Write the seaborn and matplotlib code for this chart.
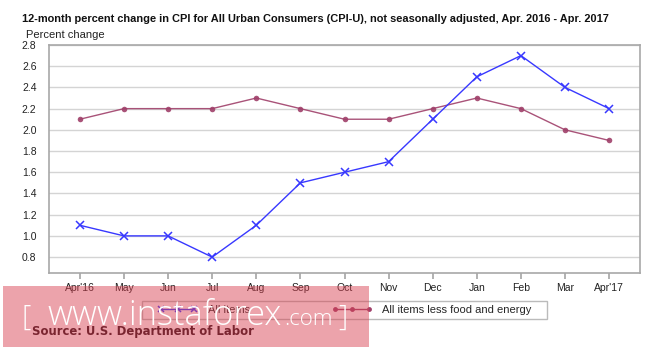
import matplotlib
matplotlib.use("Agg")
import matplotlib.pyplot as plt
import seaborn as sns
import pandas as pd
from matplotlib.patches import Rectangle
from matplotlib.lines import Line2D

months = ["Apr'16", "May", "Jun", "Jul", "Aug", "Sep", "Oct", "Nov", "Dec", "Jan", "Feb", "Mar", "Apr'17"]
all_items = [1.1, 1.0, 1.0, 0.8, 1.1, 1.5, 1.6, 1.7, 2.1, 2.5, 2.7, 2.4, 2.2]
core_items = [2.1, 2.2, 2.2, 2.2, 2.3, 2.2, 2.1, 2.1, 2.2, 2.3, 2.2, 2.0, 1.9]
yticks = [0.8, 1.0, 1.2, 1.4, 1.6, 1.8, 2.0, 2.2, 2.4, 2.6, 2.8]

sns.set_theme(style="white")
plt.rcParams['font.family'] = ['Liberation Sans', 'DejaVu Sans']

df = pd.DataFrame({"x": list(range(len(months))), "all": all_items, "core": core_items})

W, H = 665, 350
fig = plt.figure(figsize=(6.65, 3.5), dpi=100)
ax = fig.add_axes([49 / W, 1 - 273 / H, (640 - 49) / W, (273 - 45) / H])

blue = "#3838ff"
purple = "#a0406a"
sns.lineplot(data=df, x="x", y="core", ax=ax, color=purple, marker="o", markersize=4,
             markeredgewidth=0, linewidth=1.0, alpha=0.9)
sns.lineplot(data=df, x="x", y="all", ax=ax, color=blue, marker="x", markersize=5.5,
             markeredgewidth=1.1, linewidth=1.0, markeredgecolor=blue)

ax.set_xlim(-0.7, len(months) - 1 + 0.7)
ax.set_ylim(0.65, 2.8)
ax.set_yticks(yticks)
ax.set_yticklabels([f"{v:.1f}" for v in yticks], fontsize=7.5, color="#222222")
ax.set_xticks(range(len(months)))
ax.set_xticklabels(months, fontsize=7.5, color="#222222")
ax.set_xlabel("")
ax.set_ylabel("")
ax.grid(axis="y", color="#d4d4d4", linewidth=1.0)
ax.set_axisbelow(True)
for s in ax.spines.values():
    s.set_color("#a8a8a8")
    s.set_linewidth(1.2)
ax.tick_params(axis="x", bottom=True, length=4, color="#a8a8a8", pad=3)
ax.tick_params(axis="y", left=False, pad=3)

fig.text(22 / W, 1 - 19 / H, "12-month percent change in CPI for All Urban Consumers (CPI-U), not seasonally adjusted, Apr. 2016 - Apr. 2017",
         fontsize=7.95, fontweight="bold", family=['Liberation Sans Narrow', 'Liberation Sans', 'DejaVu Sans'],
         va="center", ha="left", color="#111111")
fig.text(26 / W, 1 - 35 / H, "Percent change", fontsize=8, va="center", ha="left", color="#222222")

handles = [
    Line2D([0], [0], color=blue, marker="x", markersize=5, markeredgewidth=1.1, linewidth=1.0),
    Line2D([0], [0], color=purple, marker="o", markersize=3.5, markeredgewidth=0, linewidth=1.0),
]
# legend frame drawn as a plain box
fig.patches.append(Rectangle((142 / W, 1 - 319 / H), (547 - 142) / W, 18 / H, transform=fig.transFigure,
                             facecolor="white", edgecolor="#bbbbbb", linewidth=1.0, zorder=2))
leg = fig.legend(handles, ["All items", "All items less food and energy"], ncol=2, numpoints=3,
                 loc="center", bbox_to_anchor=(344.5 / W, 1 - 310 / H), fontsize=8,
                 frameon=False, borderpad=0.25, borderaxespad=0, handlelength=3.6,
                 columnspacing=7.4, handletextpad=0.9)
leg.set_zorder(3)

# watermark overlay
fig.patches.append(Rectangle((3 / W, 1 - 347 / H), 366 / W, 61 / H, transform=fig.transFigure,
                             facecolor="#d94050", alpha=0.48, edgecolor="none", zorder=5))
wm_font = ['Open Sans', 'DejaVu Sans']
fig.text(22 / W, 1 - 318 / H, "[", fontsize=21, color="white", va="center", ha="left",
         family=wm_font, fontweight="light", zorder=6)
fig.text(47 / W, 1 - 325 / H, "www.instaforex", fontsize=24.8, color="white", va="baseline", ha="left",
         family=wm_font, fontweight="light", zorder=6)
fig.text(284 / W, 1 - 325 / H, ".com", fontsize=16, color="white", va="baseline", ha="left",
         family=wm_font, fontweight="light", zorder=6)
fig.text(338 / W, 1 - 318 / H, "]", fontsize=21, color="white", va="center", ha="left",
         family=wm_font, fontweight="light", zorder=6)
fig.text(32 / W, 1 - 331 / H, "Source: U.S. Department of Labor", fontsize=8.4, color="#7a2530",
         fontweight="bold", va="center", ha="left", family=['DejaVu Sans'], zorder=7)

fig.savefig("out.png", dpi=100)
